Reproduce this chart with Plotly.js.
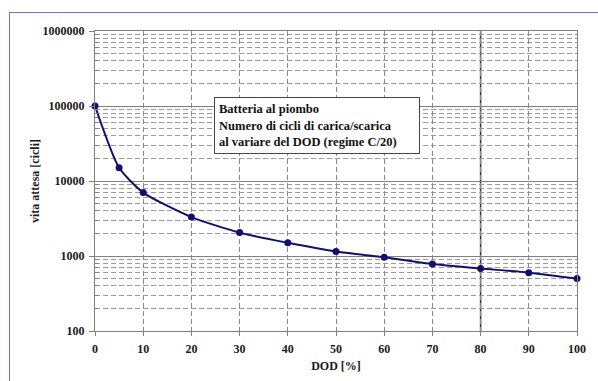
<!DOCTYPE html>
<html>
<head>
<meta charset="utf-8">
<script src="https://cdn.plot.ly/plotly-3.0.1.min.js"></script>
<style>
  html, body { margin: 0; padding: 0; background: #fff; }
  #wrap { position: relative; width: 598px; height: 381px; overflow: hidden; }
  #chart { position: absolute; left: 0; top: 0; width: 598px; height: 381px; }
  #frame { position: absolute; left: 9px; top: 12px; width: 600px; height: 380px;
           border-left: 1.5px solid #6f6fd8; border-top: 1.5px solid #6f6fd8; pointer-events: none; }
</style>
</head>
<body>
<div id="wrap">
  <div id="chart"></div>
  <div id="frame"></div>
</div>
<script>
// Data
const dod = [0, 5, 10, 20, 30, 40, 50, 60, 70, 80, 90, 100];
const cycles = [100000, 15000, 7000, 3300, 2050, 1500, 1150, 960, 780, 680, 600, 500];

const xTickVals = [0, 10, 20, 30, 40, 50, 60, 70, 80, 90, 100];
const yTickVals = [100, 1000, 10000, 100000, 1000000];
const yTickText = ['100', '1000', '10000', '100000', '1000000'];

const boxLines = ['Batteria al piombo', 'Numero di cicli di carica/scarica', 'al variare del DOD (regime C/20)'];

const xTitle = 'DOD [%]';
const yTitle = 'vita attesa [cicli]';
const highlightX = 80;

// minor (2..9) positions per decade for gridlines
const yMinor = [];
for (let d = 100; d < 1000000; d *= 10) {
  for (let k = 2; k <= 9; k++) yMinor.push(k * d);
}

const font = { family: 'Liberation Serif, Times New Roman, serif', size: 12, color: '#1a1a1a', weight: 'bold' };

const trace = {
  x: dod, y: cycles, type: 'scatter', mode: 'lines+markers',
  line: { color: '#10106e', width: 2, shape: 'spline', smoothing: 0.6 },
  marker: { color: '#10106e', size: 7 },
  cliponaxis: false, hoverinfo: 'skip'
};

const layout = {
  width: 598, height: 381,
  margin: { l: 95, r: 21, t: 31, b: 50 },
  paper_bgcolor: '#ffffff', plot_bgcolor: '#ffffff',
  font: font,
  showlegend: false,
  xaxis: {
    range: [0, 100], tickmode: 'array', tickvals: xTickVals,
    ticks: 'outside', ticklen: 4, tickcolor: '#808080',
    showgrid: true, gridcolor: '#8a8a8a', gridwidth: 1, griddash: '5px,3px',
    showline: true, linecolor: '#808080', linewidth: 1, mirror: true,
    zeroline: false, tickfont: font, ticklabelstandoff: 3,
    title: { text: xTitle, font: font, standoff: 6 }
  },
  yaxis: {
    type: 'log', range: [2, 6], tickmode: 'array', tickvals: yTickVals, ticktext: yTickText,
    ticks: 'outside', ticklen: 5, tickcolor: '#808080',
    showgrid: true, gridcolor: '#808080', gridwidth: 1,
    showline: true, linecolor: '#808080', linewidth: 1, mirror: true,
    zeroline: false, tickfont: font, ticklabelstandoff: 2,
    minor: { tickmode: 'array', tickvals: yMinor, showgrid: true, gridcolor: '#9a9a9a',
             griddash: '5px,3px', gridwidth: 1, ticks: 'inside', ticklen: 3, tickcolor: '#808080' },
    title: { text: yTitle, font: font, standoff: 0 }
  },
  shapes: [{
    type: 'line', xref: 'x', yref: 'paper', x0: highlightX, x1: highlightX, y0: 0, y1: 1,
    line: { color: '#333333', width: 1.5 }, layer: 'below'
  }],
  annotations: [{
    xref: 'paper', yref: 'paper', x: 0.4616, y: 0.685, xanchor: 'center', yanchor: 'middle',
    text: boxLines.join('<br>'), align: 'left', showarrow: false,
    font: { family: font.family, size: 12.5, color: '#111', weight: 'bold' },
    bgcolor: '#ffffff', bordercolor: '#444444', borderwidth: 1, borderpad: 4,
    width: 196, height: 47
  }]
};

Plotly.newPlot('chart', [trace], layout, { staticPlot: true, displayModeBar: false });
</script>
</body>
</html>
